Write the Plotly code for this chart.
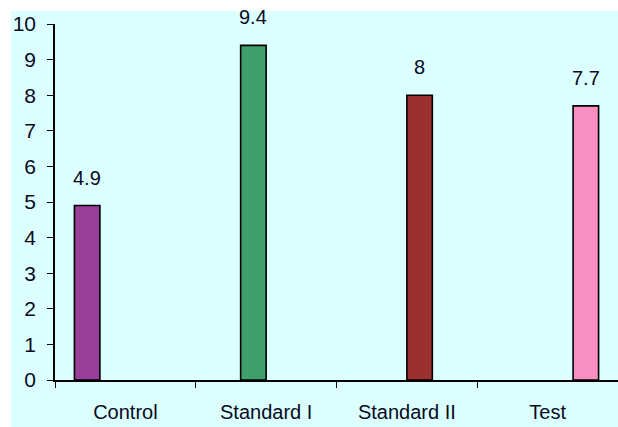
import plotly.graph_objects as go

categories = ["Control", "Standard I", "Standard II", "Test"]
values = [4.9, 9.4, 8, 7.7]
value_labels = ["4.9", "9.4", "8", "7.7"]
bar_colors = ["#973e96", "#3fa06c", "#9a3030", "#f78fc0"]
y_ticks = list(range(0, 11))

SLOT = 0.181   # width of one series slot inside a category group
TEXT = "#0a0a1e"

fig = go.Figure()
n = len(categories)
for i, (cat, val, col) in enumerate(zip(categories, values, bar_colors)):
    fig.add_trace(go.Bar(
        x=[cat], y=[val],
        offset=(i - n / 2) * SLOT, width=SLOT,
        marker=dict(color=col, line=dict(color="#000000", width=1.6)),
        showlegend=False, name=cat,
    ))

annotations = []
for i, (val, lab) in enumerate(zip(values, value_labels)):
    annotations.append(dict(
        x=i + (i - (n - 1) / 2) * SLOT, y=val, xref="x", yref="y",
        text=lab, showarrow=False, yanchor="bottom", yshift=15,
        font=dict(size=20, color=TEXT),
    ))

fig.update_layout(
    width=618, height=427,
    margin=dict(l=55, r=0, t=24, b=47),
    paper_bgcolor="#ffffff",
    plot_bgcolor="rgba(0,0,0,0)",
    font=dict(family="Liberation Sans, Arial, sans-serif", size=20, color=TEXT),
    annotations=annotations,
    shapes=[dict(type="rect", xref="paper", yref="paper",
                 x0=-0.078, x1=1.01, y0=-0.14, y1=1.0365,
                 fillcolor="#dcffff", line=dict(width=0), layer="below")],
)
fig.update_xaxes(
    range=[-0.5, n - 0.5],
    showline=True, linecolor="#000000", linewidth=1.5,
    ticks="outside", tickson="boundaries", ticklen=6, tickcolor="#000000",
    ticklabelstandoff=13, tickfont=dict(size=20), showgrid=False,
)
fig.update_yaxes(
    range=[0, 10], tickvals=y_ticks, showline=True, linecolor="#000000",
    linewidth=1.5, ticks="outside", ticklen=6, tickcolor="#000000",
    ticklabelstandoff=7, tickfont=dict(size=21), showgrid=False, zeroline=False,
)
fig.write_html("out.html")
